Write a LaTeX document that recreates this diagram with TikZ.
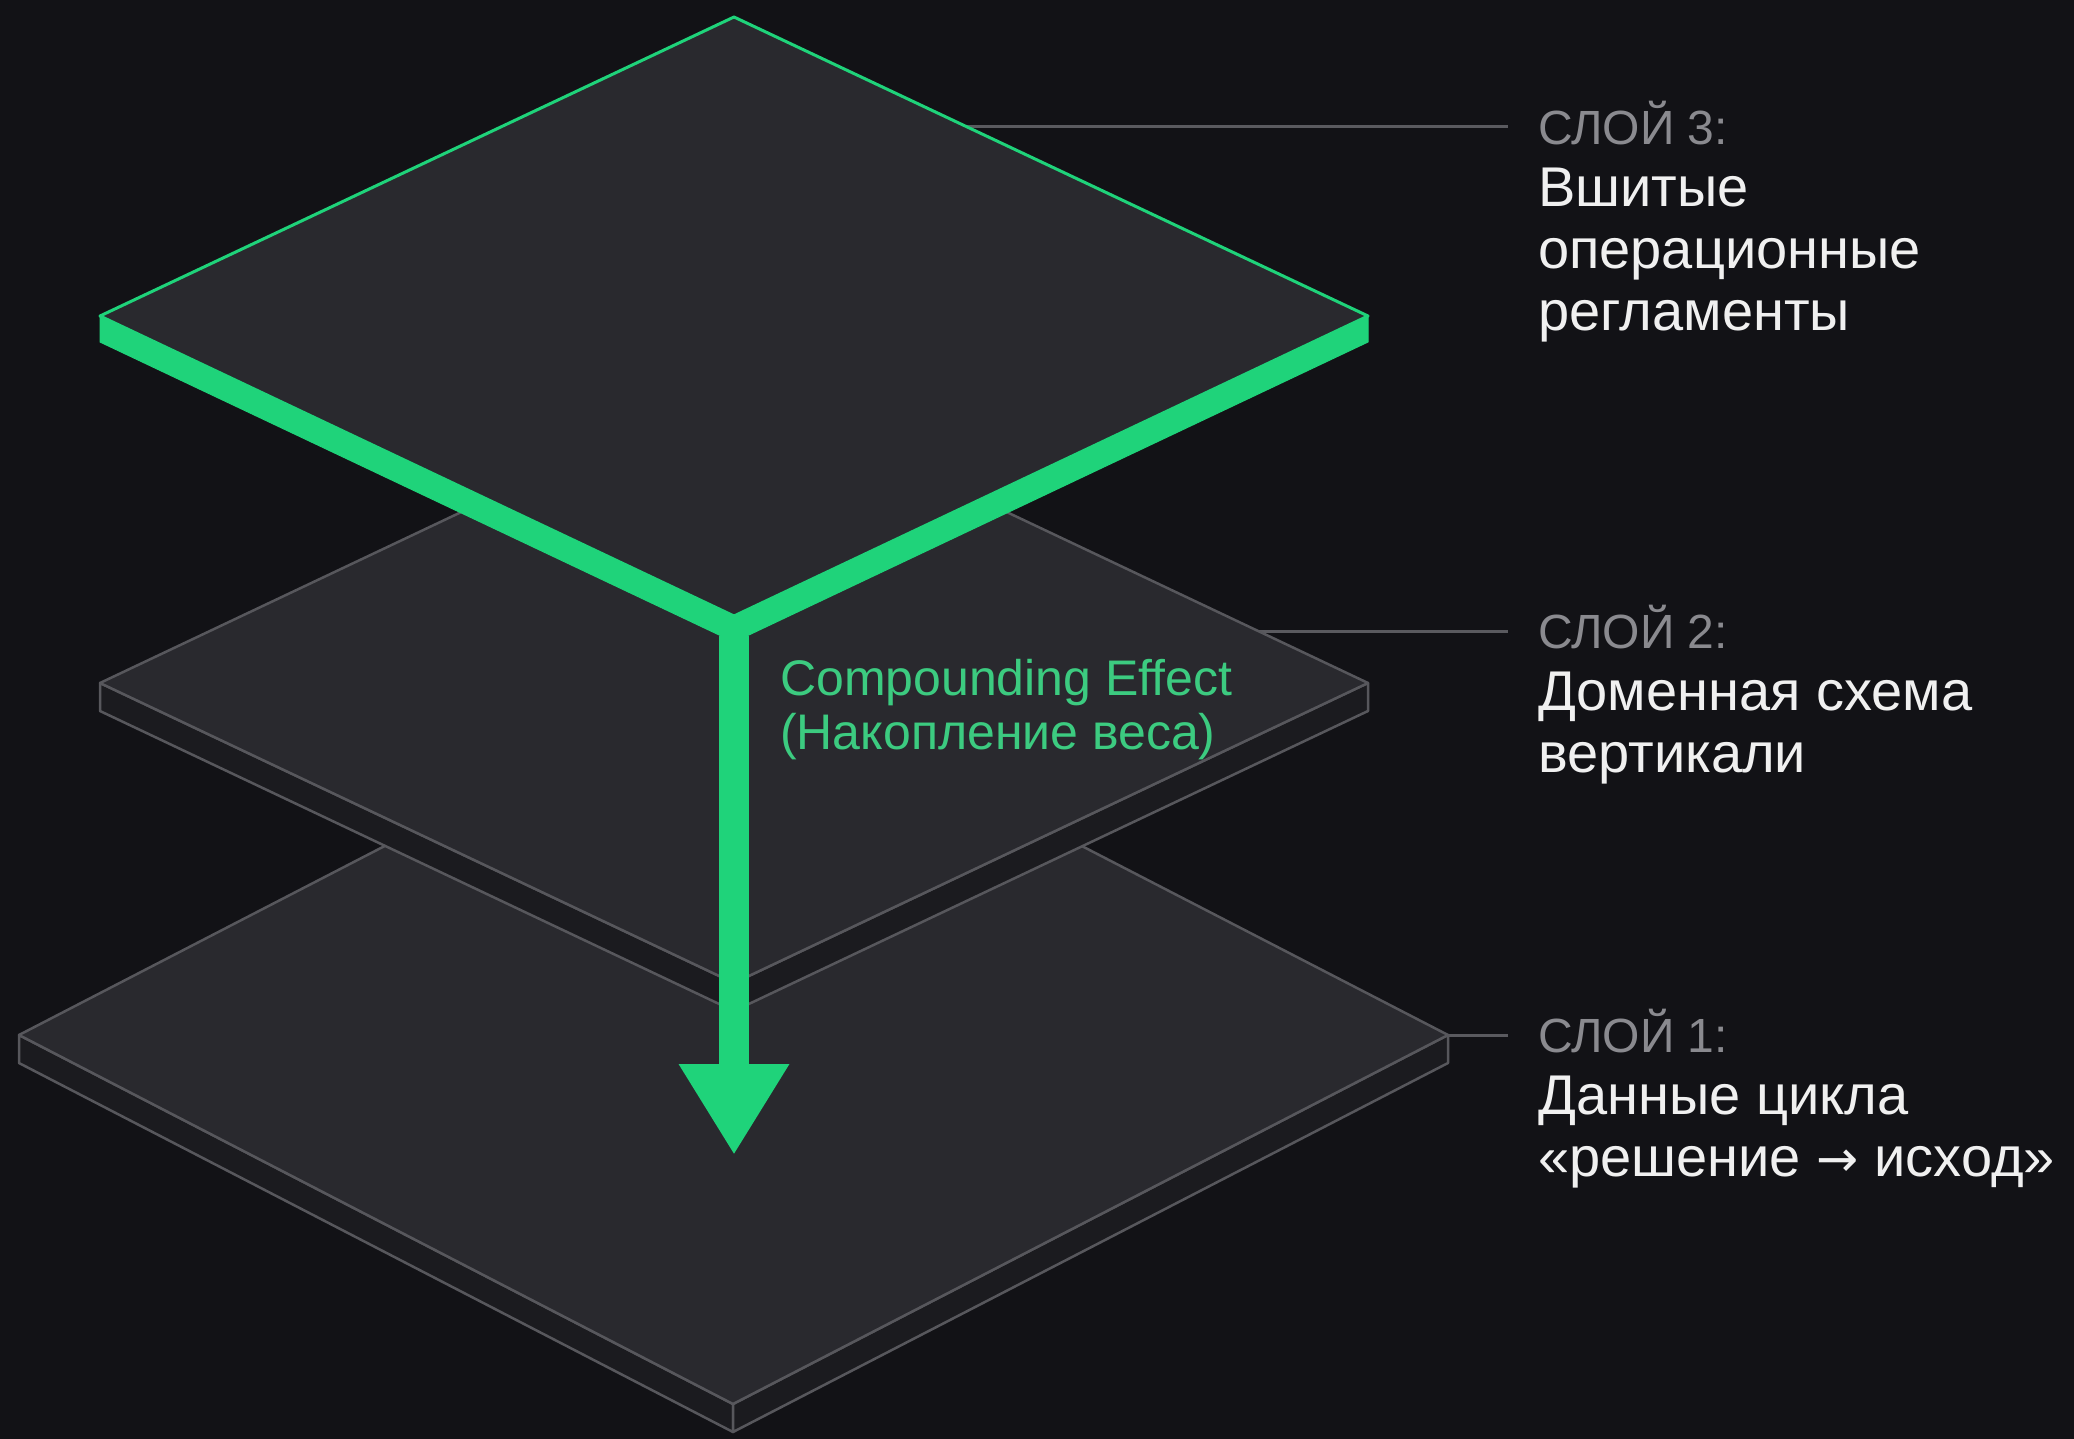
\documentclass[tikz,border=0pt]{standalone}
\usepackage{fontspec}
\setmainfont{Liberation Sans}
\newfontfamily\arrowfont{DejaVu Sans}[Scale=0.9]
\usetikzlibrary{arrows.meta,positioning}

\definecolor{bgdark}{HTML}{121216}
\definecolor{facegray}{HTML}{29292E}
\definecolor{sidegray}{HTML}{1B1B1F}
\definecolor{edgegray}{HTML}{57575C}
\definecolor{glowgreen}{HTML}{1FD37A}
\definecolor{textgreen}{HTML}{3CCB80}
\definecolor{capgray}{HTML}{8A8A8F}
\definecolor{leadgray}{HTML}{5A5A5F}
\definecolor{labelwhite}{HTML}{F0F0F0}

\begin{document}
\begin{tikzpicture}[
    x=1pt, y=-1pt,
    every node/.style={inner sep=0pt},
    topface/.style={fill=facegray, draw=edgegray, line width=2.5pt, line join=round},
    sideface/.style={fill=sidegray, draw=edgegray, line width=2.5pt, line join=round},
    greenface/.style={fill=facegray, draw=glowgreen, line width=3pt, line join=round},
    greenside/.style={fill=glowgreen, draw=glowgreen, line width=1pt, line join=round},
    leader/.style={draw=leadgray, line width=3pt},
    layercap/.style={anchor=west, inner xsep=30pt, text height=34.4pt, text depth=0pt,
        text=capgray, font=\fontsize{48}{56}\selectfont},
    layertext/.style={anchor=base west, text=labelwhite, font=\fontsize{56}{62}\selectfont},
    flow/.style={draw=glowgreen, line width=30pt, -{Triangle[width=104pt,length=91pt]}}
]
\fill[bgdark] (0,0) rectangle (2074,1439);
\useasboundingbox (0,0) rectangle (2074,1439);

% layer captions on the right
\node[layercap] (cap3) at (1508,127) {СЛОЙ 3:};
\node[layertext] (txt3) at ([xshift=30pt,yshift=-62pt]cap3.south west)
    {\begin{tabular}[t]{@{}l@{}}Вшитые\\операционные\\регламенты\end{tabular}};
\node[layercap] (cap2) at (1508,631) {СЛОЙ 2:};
\node[layertext] (txt2) at ([xshift=30pt,yshift=-62pt]cap2.south west)
    {\begin{tabular}[t]{@{}l@{}}Доменная схема\\вертикали\end{tabular}};
\node[layercap] (cap1) at (1508,1035) {СЛОЙ 1:};
\node[layertext] (txt1) at ([xshift=30pt,yshift=-62pt]cap1.south west)
    {\begin{tabular}[t]{@{}l@{}}Данные цикла\\«решение {\arrowfont →} исход»\end{tabular}};

% leader lines run behind the slabs
\coordinate (lead3) at (900,127);
\coordinate (lead2) at (1200,631);
\coordinate (lead1) at (1448,1035);
\draw[leader] (lead3) -- (cap3.west);
\draw[leader] (lead2) -- (cap2.west);
\draw[leader] (lead1) -- (cap1.west);

% bottom slab
\draw[sideface] (19,1035) -- (733,1404) -- (733,1432) -- (19,1063) -- cycle;
\draw[sideface] (733,1404) -- (1448,1035) -- (1448,1063) -- (733,1432) -- cycle;
\draw[topface] (733,666) -- (1448,1035) -- (733,1404) -- (19,1035) -- cycle;

% middle slab
\draw[sideface] (100,683) -- (734,983) -- (734,1011) -- (100,711) -- cycle;
\draw[sideface] (734,983) -- (1368,683) -- (1368,711) -- (734,1011) -- cycle;
\draw[topface] (734,383) -- (1368,683) -- (734,983) -- (100,683) -- cycle;

% top slab
\draw[greenside] (100,316) -- (734,616) -- (734,642) -- (100,342) -- cycle;
\draw[greenside] (734,616) -- (1368,316) -- (1368,342) -- (734,642) -- cycle;
\draw[greenface] (734,17) -- (1368,316) -- (734,616) -- (100,316) -- cycle;

% compounding arrow
\coordinate (join) at (734,636);
\coordinate (sink) at (734,1155);
\draw[flow] (join) -- (sink);
\node[anchor=base west, text=textgreen, font=\fontsize{50}{54}\selectfont] (effect) at (780,695)
    {\begin{tabular}[t]{@{}l@{}}Compounding Effect\\(Накопление веса)\end{tabular}};
\end{tikzpicture}
\end{document}
